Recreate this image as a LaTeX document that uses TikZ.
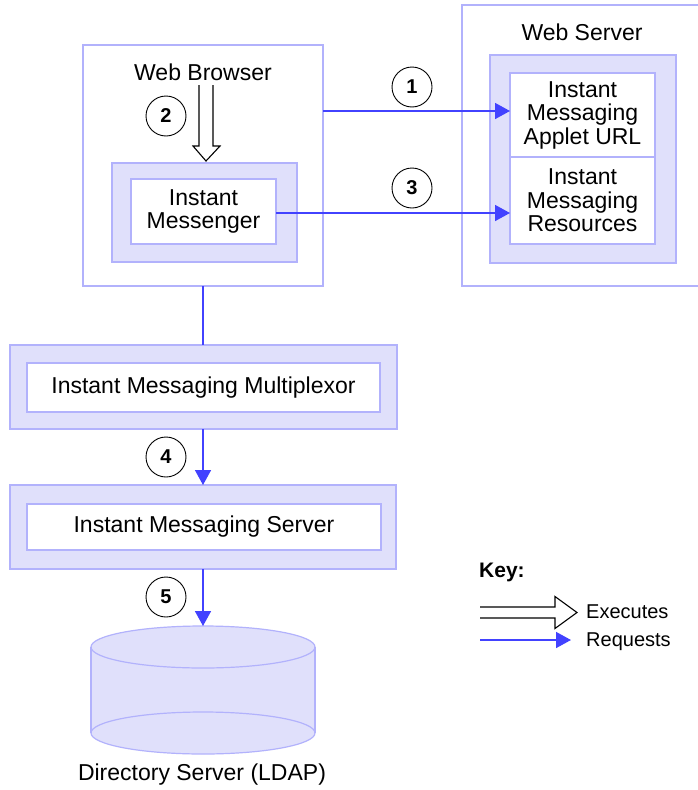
\documentclass[tikz,border=0pt]{standalone}
\usepackage{fontspec}
\setmainfont{Liberation Sans}
\usetikzlibrary{arrows.meta,calc}
\definecolor{lineblue}{RGB}{178,178,252}
\definecolor{dotfill}{RGB}{224,224,251}
\definecolor{reqblue}{RGB}{66,66,255}
\tikzset{
  outerbox/.style={draw=lineblue,fill=white,line width=1.5pt,inner sep=0pt,outer sep=0pt},
  shadebox/.style={draw=lineblue,fill=dotfill,line width=1.5pt,inner sep=0pt,outer sep=0pt},
  whitebox/.style={draw=lineblue,fill=white,line width=1.2pt,inner sep=0pt,outer sep=0pt,align=center,
     font=\fontsize{23}{23.5}\selectfont},
  lbl/.style={inner sep=0pt,font=\fontsize{23}{23.5}\selectfont},
  req/.style={draw=reqblue,line width=1.6pt,-{Triangle[length=15pt,width=16pt]}},
  plainln/.style={draw=reqblue,line width=1.6pt},
  exe/.style={draw=black,line width=1.1pt,line join=miter},
  num/.style={circle,draw=black,line width=0.9pt,minimum size=40pt,inner sep=0pt,
     font=\bfseries\fontsize{20}{20}\selectfont},
  keytxt/.style={inner sep=0pt,anchor=west,font=\fontsize{20}{20}\selectfont}
}
\begin{document}
\begin{tikzpicture}[x=1pt,y=-1pt]
\useasboundingbox (0,0) rectangle (698,790);
\fill[white] (0,0) rectangle (698,790);

% Web browser
\node[outerbox,minimum width=240pt,minimum height=241pt] (wb) at (203,165.5) {};
\node[lbl] (wbl) at (203,72) {Web Browser};
\node[shadebox,minimum width=185pt,minimum height=99pt] (imS) at (204.5,212.5) {};
\node[whitebox,minimum width=145pt,minimum height=65pt] (imW) at (203.5,211.5) {Instant\\Messenger};

% Web server
\node[outerbox,minimum width=238pt,minimum height=281pt] (ws) at (581,145.5) {};
\node[lbl] (wsl) at (582,32) {Web Server};
\node[shadebox,minimum width=186pt,minimum height=208pt] (wsS) at (583,159) {};
\node[whitebox,minimum width=145pt,minimum height=84pt] (url) at (582.5,115) {Instant\\Messaging\\Applet URL};
\node[whitebox,minimum width=145pt,minimum height=87pt] (res) at (582.5,200.5) {Instant\\Messaging\\Resources};

% Multiplexor and server
\node[shadebox,minimum width=387pt,minimum height=84pt] (mux) at (203.5,387) {};
\node[whitebox,minimum width=353pt,minimum height=49pt] (muxW) at (203.5,387.5) {Instant Messaging Multiplexor};
\node[shadebox,minimum width=386pt,minimum height=84pt] (srv) at (203,527) {};
\node[whitebox,minimum width=354pt,minimum height=46pt] (srvW) at (204,527) {Instant Messaging Server};

% Directory server cylinder
\coordinate (cyltop) at (203,626);
\fill[dotfill] (91,647) -- (91,733) arc[start angle=180,end angle=360,x radius=112pt,y radius=21pt]
   -- (315,647) arc[start angle=0,end angle=180,x radius=112pt,y radius=21pt] -- cycle;
\draw[lineblue,line width=1.2pt] (91,647) -- (91,733) (315,647) -- (315,733);
\draw[lineblue,line width=1.2pt] (203,647) ellipse[x radius=112pt,y radius=21pt];
\draw[lineblue,line width=1.2pt] (203,733) ellipse[x radius=112pt,y radius=21pt];
\node[lbl] (ldap) at (202,775) {Directory Server (LDAP)};

% Executes arrow (browser -> messenger)
\coordinate (ex1) at (206,85);
\draw[exe] ($(ex1)+(-7,0)$) -- ($(ex1)+(-7,61)$) -- ($(ex1)+(-13,61)$) -- ($(ex1)+(0,76)$)
   -- ($(ex1)+(14,61)$) -- ($(ex1)+(7,61)$) -- ($(ex1)+(7,0)$);

% Requests
\draw[req] ([yshift=4pt]url.west -| wb.east) -- ([yshift=4pt]url.west);
\draw[req] ([yshift=-1.5pt]imW.east) -- ([yshift=-1.5pt]imW.east -| res.west);
\draw[plainln] (wb.south) -- (wb.south |- mux.north);
\draw[req] (wb.south |- mux.south) -- (wb.south |- srv.north);
\draw[req] (wb.south |- srv.south) -- (cyltop);

% Step numbers
\node[num] (n1) at (412,87) {1};
\node[num] (n2) at (166,116) {2};
\node[num] (n3) at (412,188) {3};
\node[num] (n4) at (166,457) {4};
\node[num] (n5) at (166,597) {5};

% Key
\node[inner sep=0pt,anchor=west,font=\bfseries\fontsize{21}{21}\selectfont] (key) at (479,572) {Key:};
\coordinate (k1) at (480,612.5);
\coordinate (k1e) at (577,612.5);
\draw[exe] ($(k1)+(0,-5.5)$) -- ($(k1)+(75,-5.5)$) -- ($(k1)+(75,-16)$) -- (k1e)
   -- ($(k1)+(75,16)$) -- ($(k1)+(75,5.5)$) -- ($(k1)+(0,5.5)$);
\node[keytxt] (kexe) at (586,612) {Executes};
\coordinate (k2) at (480,640);
\coordinate (k2e) at (571,640);
\draw[req] (k2) -- (k2e);
\node[keytxt] (kreq) at (586,642) {Requests};
\end{tikzpicture}
\end{document}
